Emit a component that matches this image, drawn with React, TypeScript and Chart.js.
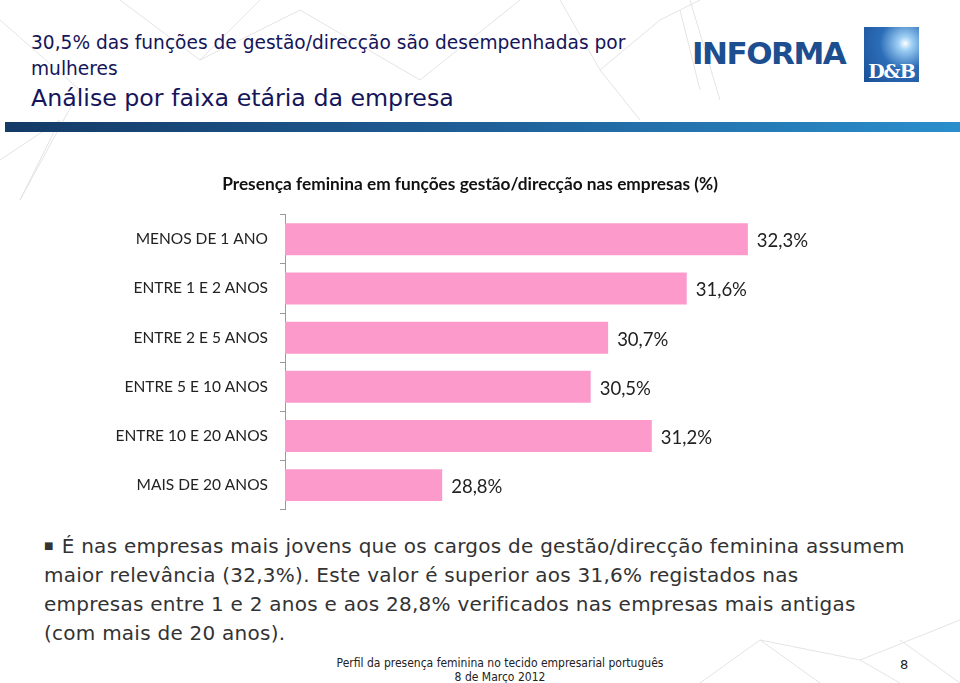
import React, { useEffect, useRef } from "react";
import { Chart, registerables } from "chart.js";

Chart.register(...registerables);

const categories = [
  "MENOS DE 1 ANO",
  "ENTRE 1 E 2 ANOS",
  "ENTRE 2 E 5 ANOS",
  "ENTRE 5 E 10 ANOS",
  "ENTRE 10 E 20 ANOS",
  "MAIS DE 20 ANOS",
];
const values = [32.3, 31.6, 30.7, 30.5, 31.2, 28.8];
const valueLabels = ["32,3%", "31,6%", "30,7%", "30,5%", "31,2%", "28,8%"];
const chartTitle = "Presença feminina em funções gestão/direcção nas empresas (%)";

const FONT = "Lato, 'Open Sans', sans-serif";

const labelPlugin = {
  id: "valueLabels",
  afterDatasetsDraw(chart: any) {
    const ctx = chart.ctx;
    const meta = chart.getDatasetMeta(0);
    ctx.save();
    ctx.font = `18.5px ${FONT}`;
    ctx.fillStyle = "#222";
    ctx.textAlign = "left";
    ctx.textBaseline = "middle";
    meta.data.forEach((bar: any, i: number) => {
      ctx.fillText(valueLabels[i], bar.x + 9, bar.y + 2);
    });
    ctx.restore();
  },
};

function BarChart() {
  const ref = useRef<HTMLCanvasElement>(null);
  useEffect(() => {
    if (!ref.current) return;
    const chart = new Chart(ref.current, {
      type: "bar",
      data: {
        labels: categories,
        datasets: [
          {
            data: values,
            backgroundColor: "#FB9ACB",
            borderWidth: 0,
            categoryPercentage: 1,
            barPercentage: 0.65,
          },
        ],
      },
      options: {
        indexAxis: "y",
        animation: false,
        responsive: false,
        layout: { padding: { top: 0, bottom: 0, right: 20, left: 0 } },
        plugins: {
          legend: { display: false },
          tooltip: { enabled: false },
          title: {
            display: true,
            text: chartTitle,
            color: "#111",
            font: { family: FONT, size: 17.3, weight: "bold" },
            padding: { top: 14, bottom: 20 },
          },
        },
        scales: {
          x: {
            display: false,
            min: 27,
            max: 34.5,
          },
          y: {
            afterFit(scale: any) {
              scale.width = 285;
            },
            grid: {
              offset: true,
              drawOnChartArea: false,
              tickLength: 5,
              color: "#999",
            },
            border: { display: true, color: "#999", width: 1 },
            ticks: {
              color: "#222",
              padding: 12,
              font: { family: FONT, size: 15.5 },
            },
          },
        },
      },
      plugins: [labelPlugin],
    });
    return () => chart.destroy();
  }, []);
  return (
    <canvas
      ref={ref}
      width={960}
      height={371}
      style={{ position: "absolute", left: 0, top: 160, width: 960, height: 371 }}
    />
  );
}

const bodyLines = [
  "É nas empresas mais jovens que os cargos de gestão/direcção feminina assumem",
  "maior relevância (32,3%). Este valor é superior aos 31,6% registados nas",
  "empresas entre 1 e 2 anos e aos 28,8% verificados nas empresas mais antigas",
  "(com mais de 20 anos).",
];

export default function App() {
  return (
    <div
      style={{
        position: "fixed",
        left: 0,
        top: 0,
        width: 960,
        height: 683,
        background: "#fff",
        overflow: "hidden",
        fontFamily: "'DejaVu Sans', Verdana, sans-serif",
      }}
    >
      <svg width={960} height={683} style={{ position: "absolute", left: 0, top: 0 }}>
        <g stroke="#e4e4e4" strokeWidth={1} fill="none">
          <path d="M0 20 L80 90 L20 200 L60 120 L0 160" />
          <path d="M120 0 L200 60 L260 0 M200 60 L300 10 L420 80 L520 0" />
          <path d="M560 0 L600 70 L660 20 L700 0 M600 70 L640 120" />
          <path d="M680 10 L700 90 M690 0 L720 100" />
          <path d="M700 683 L760 640 L820 683 M760 640 L860 660 L960 620 M860 660 L900 683 M900 640 L960 683" />
        </g>
      </svg>
      <div style={{ position: "absolute", left: 31, top: 30, color: "#15155a", fontSize: 18.6, lineHeight: "26px", width: 640 }}>
        30,5% das funções de gestão/direcção são desempenhadas por
        <br />
        mulheres
      </div>
      <div style={{ position: "absolute", left: 31, top: 83, color: "#15155a", fontSize: 23.7, lineHeight: "30px", whiteSpace: "nowrap" }}>
        Análise por faixa etária da empresa
      </div>
      <div
        style={{
          position: "absolute",
          left: 5,
          top: 122,
          width: 955,
          height: 10,
          background: "linear-gradient(to right, #143a66, #1f5f98 50%, #2a8fcc)",
        }}
      />
      <div
        style={{
          position: "absolute",
          left: 692,
          top: 38,
          color: "#1d4e8f",
          fontFamily: "'DejaVu Sans', sans-serif",
          fontWeight: "bold",
          fontSize: 31,
          letterSpacing: -1.5,
          lineHeight: "31px",
          whiteSpace: "nowrap",
        }}
      >
        INFORMA
      </div>
      <div
        style={{
          position: "absolute",
          left: 864,
          top: 27,
          width: 55,
          height: 55,
          background: "radial-gradient(circle at 75% 30%, #ffffff 0%, #9fd0f5 12%, #2c6db8 45%, #1b4f95 100%)",
          color: "#fff",
          fontFamily: "'DejaVu Serif', serif",
          fontWeight: "bold",
          fontSize: 19,
          display: "flex",
          alignItems: "flex-end",
          justifyContent: "center",
          letterSpacing: -1,
        }}
      >
        D&amp;B
      </div>
      <BarChart />
      <div
        style={{
          position: "absolute",
          left: 44,
          top: 531,
          color: "#333",
          fontSize: 20,
          letterSpacing: 0.25,
          lineHeight: "29px",
          whiteSpace: "nowrap",
        }}
      >
        {bodyLines.map((line, i) => (
          <div key={i}>
            {i === 0 ? (
              <span style={{ fontSize: 10, verticalAlign: "4px", marginRight: 8 }}>■</span>
            ) : null}
            {line}
          </div>
        ))}
      </div>
      <div
        style={{
          position: "absolute",
          left: 300,
          top: 656,
          width: 400,
          textAlign: "center",
          color: "#222",
          fontFamily: "'DejaVu Sans Condensed', 'DejaVu Sans', sans-serif",
          fontSize: 12,
          lineHeight: "14px",
        }}
      >
        Perfil da presença feminina no tecido empresarial português
        <br />8 de Março 2012
      </div>
      <div
        style={{
          position: "absolute",
          left: 900,
          top: 657,
          color: "#222",
          fontSize: 13,
        }}
      >
        8
      </div>
    </div>
  );
}
